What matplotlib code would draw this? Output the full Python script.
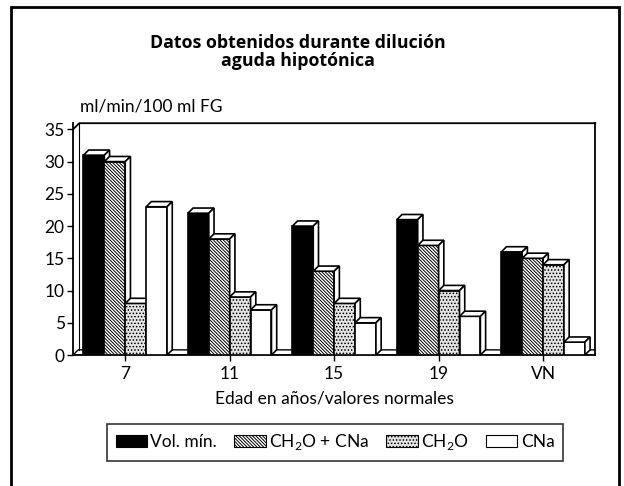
import numpy as np
import matplotlib
matplotlib.use('Agg')
import matplotlib.pyplot as plt
from matplotlib.patches import Patch, Polygon, Rectangle

plt.rcParams['font.family'] = ['Lato', 'DejaVu Sans']
plt.rcParams['mathtext.fontset'] = 'custom'
plt.rcParams['mathtext.rm'] = 'Lato'
plt.rcParams['hatch.linewidth'] = 0.7

# data
groups = ['7', '11', '15', '19', 'VN']
series = ['Vol. mín.', 'CH$_2$O + CNa', 'CH$_2$O', 'CNa']
vol_min = [31, 22, 20, 21, 16]
ch2o_cna = [30, 18, 13, 17, 15]
ch2o = [8, 9, 8, 10, 14]
cna = [23, 7, 5, 6, 2]
values = [vol_min, ch2o_cna, ch2o, cna]

faces = ['black', 'white', '#e4e4e4', 'white']
hatches = [None, '\\' * 10, '.....', None]

w = 0.2
dx, dy = 0.05, 0.8   # 3D depth in data units

fig = plt.figure(figsize=(6.24, 4.86), dpi=100)
ax = fig.add_axes([0.117, 0.2695, 0.837, 0.477])

x = np.arange(len(groups))
xmin, xmax = -0.5, len(groups) - 0.5

# floor slab
ax.add_patch(Polygon([(xmin, 0), (xmax, 0), (xmax + dx, dy), (xmin + dx, dy)],
                     closed=True, facecolor='white', edgecolor='black', lw=1, zorder=2))

for i in range(len(groups)):
    for k, vals in enumerate(values):
        l = x[i] + (k - 2) * w
        h = vals[i]
        z = 3 + i * 10 + k * 2
        ax.bar(l, h, width=w, align='edge', color=faces[k], hatch=hatches[k],
               edgecolor='black', linewidth=1.2, zorder=z)
        top = [(l, h), (l + w, h), (l + w + dx, h + dy), (l + dx, h + dy)]
        side = [(l + w, 0), (l + w, h), (l + w + dx, h + dy), (l + w + dx, dy)]
        for pts in (top, side):
            ax.add_patch(Polygon(pts, closed=True, facecolor='white',
                                 edgecolor='black', lw=1.2, zorder=z + 1))

ax.set_xlim(xmin, xmax)
ax.set_ylim(0, 35 + dy * 1.2)
ax.set_yticks(range(0, 36, 5))
ax.set_xticks(x)
ax.set_xticklabels(groups)
ax.tick_params(axis='both', direction='out', length=4, width=1, labelsize=12.5)
ax.tick_params(axis='x', pad=4)
ax.tick_params(axis='y', pad=2)
ax.spines['top'].set_visible(False)
for s in ('left', 'bottom', 'right'):
    ax.spines[s].set_linewidth(1.3)

# back wall
top_y = 35 + dy * 1.2
ax.plot([xmin, xmin + dx * 1.2, xmax], [35, top_y, top_y], color='black', lw=1.3, clip_on=False)
ax.plot([xmin + dx * 1.2, xmin + dx * 1.2], [dy, top_y], color='black', lw=0.8, clip_on=False)

ax.set_xlabel('Edad en años/valores normales', fontsize=12.5, labelpad=6)

fig.text(0.128, 1 - 107 / 486, 'ml/min/100 ml FG', fontsize=12.5, ha='left', va='center')
fig.text(0.478, 1 - 52 / 486, 'Datos obtenidos durante dilución\naguda hipotónica',
         fontsize=12.8, fontweight='bold', family=['Open Sans', 'DejaVu Sans'],
         ha='center', va='center', linespacing=1.0)

handles = [Patch(facecolor=faces[k], hatch=hatches[k], edgecolor='black', lw=0.8)
           for k in range(4)]
leg = fig.legend(handles, series, loc='center', bbox_to_anchor=(0.537, 0.09), ncol=4,
                 fontsize=12.5, frameon=True, fancybox=False, edgecolor='black',
                 handlelength=1.8, handletextpad=0.2, columnspacing=1.0,
                 borderpad=0.5)
leg.get_frame().set_linewidth(1.2)

# outer frame
fig.patches.append(Rectangle((11 / 624, -0.05), 608 / 624, 1.05 - 7 / 486,
                             transform=fig.transFigure, fill=False,
                             edgecolor='black', lw=2))

fig.savefig('out.png', dpi=100)
